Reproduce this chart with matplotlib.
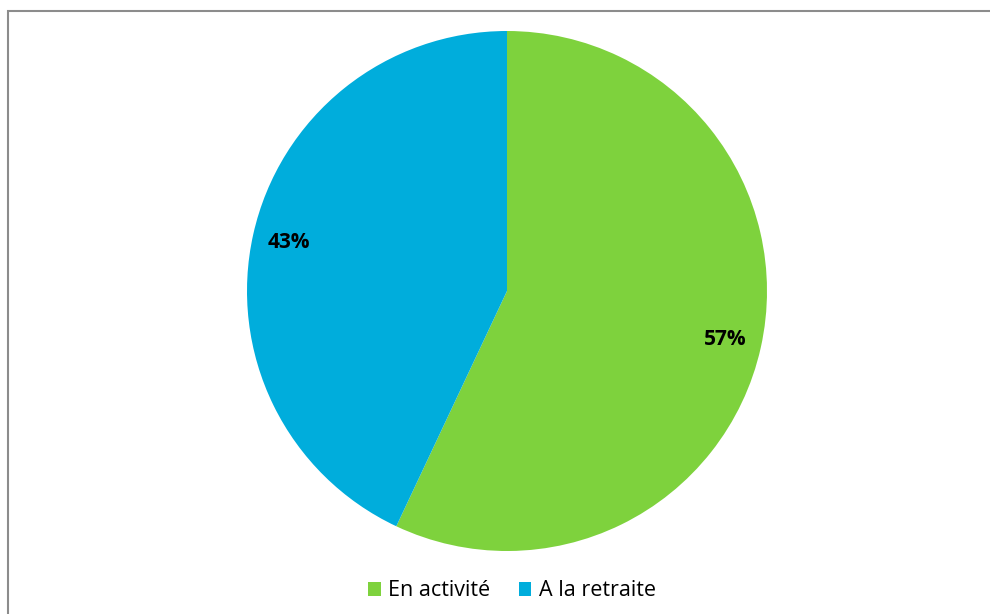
import matplotlib.pyplot as plt
import matplotlib.patches as mpatches

labels = ["En activité", "A la retraite"]
values = [57, 43]
colors = ["#7ED23D", "#00ADDC"]

plt.rcParams['font.family'] = ['Open Sans', 'DejaVu Sans']

fig = plt.figure(figsize=(9.9, 6.14), dpi=100)

# grey frame of the chart area (only top and left visible)
fig.patches.append(mpatches.Rectangle((8 / 990, -0.1), 1.2, 1 - 11 / 614 + 0.1,
                                      transform=fig.transFigure, fill=False,
                                      edgecolor="#8c8c8c", linewidth=1.5))

ax = fig.add_axes([(507 - 260) / 990, (614 - 291 - 260) / 614, 520 / 990, 520 / 614])
wedges, texts, autotexts = ax.pie(values, colors=colors, startangle=90, counterclock=False,
                                  autopct="%1.0f%%", pctdistance=0.86,
                                  wedgeprops=dict(linewidth=0),
                                  textprops=dict(fontsize=15, fontweight="bold", color="black"))
ax.set_xlim(-1, 1)
ax.set_ylim(-1, 1)
ax.set_aspect("equal")

fig.legend(wedges, labels, loc="center", bbox_to_anchor=(512 / 990, 1 - 591 / 614),
           ncol=2, frameon=False, fontsize=15.5, handlelength=0.6, handleheight=0.6,
           handletextpad=0.35, columnspacing=1.3)

fig.savefig("out.png", dpi=100)
